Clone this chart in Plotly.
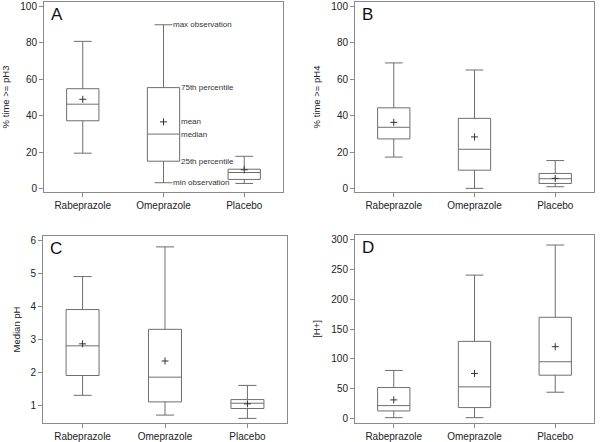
import plotly.graph_objects as go

W, H = 600, 442
categories = ["Rabeprazole", "Omeprazole", "Placebo"]

# Panel A: % time >= pH3
a_min = [19.5, 3.3, 2.9]
a_q1 = [37.3, 15.1, 5.1]
a_med = [46.4, 30.0, 8.9]
a_q3 = [54.9, 55.5, 10.7]
a_max = [80.9, 90.0, 17.8]
a_mean = [49.1, 36.7, 10.4]

# Panel B: % time >= pH4
b_min = [17.2, 0.0, 0.9]
b_q1 = [27.2, 10.0, 2.7]
b_med = [33.6, 21.5, 5.3]
b_q3 = [44.3, 38.5, 8.2]
b_max = [69.0, 65.1, 15.3]
b_mean = [36.3, 28.3, 5.5]

# Panel C: Median pH
c_min = [1.3, 0.7, 0.6]
c_q1 = [1.9, 1.1, 0.9]
c_med = [2.8, 1.85, 1.06]
c_q3 = [3.9, 3.3, 1.17]
c_max = [4.9, 5.8, 1.6]
c_mean = [2.86, 2.34, 1.04]

# Panel D: [H+]
d_min = [2.2, 2.2, 44.6]
d_q1 = [13.4, 19.0, 73.0]
d_med = [22.3, 53.5, 95.4]
d_q3 = [52.4, 129.4, 169.5]
d_max = [80.9, 239.8, 290.0]
d_mean = [31.8, 75.9, 120.5]

panels = [
    dict(name="A", title="% time >= pH3", data=(a_min, a_q1, a_med, a_q3, a_max, a_mean),
         px=(44, 283), py=(2, 192), yr=[-1.8, 102.5], dt=20),
    dict(name="B", title="% time >= pH4", data=(b_min, b_q1, b_med, b_q3, b_max, b_mean),
         px=(355, 594), py=(2, 192), yr=[-2.0, 102.5], dt=20),
    dict(name="C", title="Median pH", data=(c_min, c_q1, c_med, c_q3, c_max, c_mean),
         px=(43, 287), py=(236, 423), yr=[0.46, 6.13], dt=1),
    dict(name="D", title="[H+]", data=(d_min, d_q1, d_med, d_q3, d_max, d_mean),
         px=(355, 594), py=(235, 423), yr=[-6.7, 306.7], dt=50),
]

BOX = "#6e6e6e"
FRAME = "#8a8a8a"
TXT = "#222222"
FONT = "Liberation Sans, Arial, sans-serif"

fig = go.Figure()
layout = dict(width=W, height=H, margin=dict(l=0, r=0, t=0, b=0, pad=0),
              autosize=False,
              paper_bgcolor="white", plot_bgcolor="white", showlegend=False,
              font=dict(family=FONT, size=10, color=TXT))
annotations = []
for i, p in enumerate(panels):
    sfx = "" if i == 0 else str(i + 1)
    xa, ya = "x" + sfx, "y" + sfx
    mn, q1, md, q3, mx, mean = p["data"]
    fig.add_trace(go.Box(
        x=categories, q1=q1, median=md, q3=q3, lowerfence=mn, upperfence=mx,
        xaxis=xa, yaxis=ya, width=0.4, whiskerwidth=0.55,
        fillcolor="white", line=dict(color=BOX, width=1), boxpoints=False,
        hoverinfo="skip"))
    fig.add_trace(go.Scatter(
        x=categories, y=mean, mode="markers", xaxis=xa, yaxis=ya,
        marker=dict(symbol="cross-thin", size=5, line=dict(color="#333333", width=1)),
        hoverinfo="skip"))
    layout["xaxis" + sfx] = dict(
        domain=[p["px"][0] / W, p["px"][1] / W], anchor=ya, automargin=False,
        range=[-0.48, 2.48], type="category", categoryorder="array", categoryarray=categories,
        showline=True, linecolor=FRAME, linewidth=1, mirror=True,
        ticks="outside", ticklen=4, tickcolor=FRAME, showgrid=False, zeroline=False,
        tickfont=dict(size=10, color=TXT, family=FONT))
    layout["yaxis" + sfx] = dict(
        domain=[1 - p["py"][1] / H, 1 - p["py"][0] / H], anchor=xa, automargin=False,
        range=p["yr"], dtick=p["dt"], tick0=0,
        showline=True, linecolor=FRAME, linewidth=1, mirror=True,
        ticks="outside", ticklen=4, tickcolor=FRAME, showgrid=False, zeroline=False,
        tickfont=dict(size=10, color=TXT, family=FONT),
        title=dict(text=p["title"], font=dict(size=9.5, color=TXT, family=FONT), standoff=8))
    annotations.append(dict(
        text=p["name"], xref=xa + " domain", yref=ya + " domain",
        x=0.02, y=0.995, xanchor="left", yanchor="top", showarrow=False,
        font=dict(size=17, color="#111111", family=FONT)))

# Explanatory labels on the Omeprazole box of panel A
lab_font = dict(size=8, color="#333333", family=FONT)
cap_end = 1 + 0.2 * 0.55
box_edge = 1 + 0.2
labels = [
    ("max observation", cap_end, a_max[1]),
    ("75th percentile", box_edge, a_q3[1]),
    ("mean", box_edge, a_mean[1]),
    ("median", box_edge, a_med[1]),
    ("25th percentile", box_edge, a_q1[1]),
    ("min observation", cap_end, a_min[1]),
]
for t, xv, yv in labels:
    annotations.append(dict(text=t, x=xv, y=yv, xref="x", yref="y",
                            xanchor="left", yanchor="middle", xshift=-1,
                            showarrow=False, font=lab_font))
layout["annotations"] = annotations
fig.update_layout(**layout)
fig.write_html("out.html",
               config={"displayModeBar": False},
               post_script="document.body.style.margin='0';document.body.style.padding='0';")
